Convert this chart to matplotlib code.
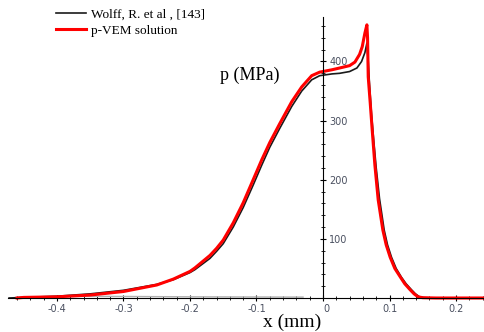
import numpy as np
import matplotlib
matplotlib.use('Agg')
import matplotlib.pyplot as plt
from matplotlib.ticker import FixedLocator

# p-VEM solution (red)
vem_x = [-0.460, -0.45, -0.40, -0.35, -0.30, -0.25, -0.225, -0.20, -0.1925, -0.17,
         -0.16, -0.15, -0.135, -0.12, -0.105, -0.092, -0.08, -0.065, -0.047, -0.032,
         -0.017, -0.005, 0.0135, 0.025, 0.04, 0.048, 0.055, 0.059, 0.063,
         0.066, 0.067, 0.068, 0.071, 0.074, 0.078, 0.083, 0.090, 0.095, 0.101,
         0.108, 0.116, 0.123, 0.131, 0.137, 0.143, 0.15, 0.17, 0.242]
vem_p = [0, 1, 2, 5, 11, 22, 32, 45, 51, 72,
         84, 98, 127, 161, 200, 234, 263, 295, 332, 357,
         376, 382, 386, 389, 393, 399, 412, 425, 448,
         462, 440, 374, 330, 284, 225, 166, 115, 90, 69,
         50, 36, 24, 14, 7, 2, 0.5, 0, 0]

# Wolff, R. et al (black)
ref_x = [-0.472, -0.45, -0.40, -0.35, -0.30, -0.25, -0.225, -0.20, -0.1925, -0.17,
         -0.16, -0.15, -0.135, -0.12, -0.105, -0.092, -0.08, -0.065, -0.047, -0.032,
         -0.017, -0.005, 0.0135, 0.025, 0.04, 0.051, 0.058, 0.063, 0.066,
         0.068, 0.070, 0.073, 0.076, 0.080, 0.085, 0.092, 0.097, 0.103, 0.110,
         0.118, 0.125, 0.133, 0.139, 0.145, 0.152, 0.17, 0.242]
ref_p = [0, 1, 3, 7, 13, 23, 31, 43, 48, 67,
         79, 92, 120, 153, 191, 225, 255, 287, 324, 350,
         369, 376, 379, 380, 383, 389, 400, 415, 431,
         400, 360, 310, 270, 220, 168, 115, 90, 69, 50,
         35, 24, 14, 7, 2, 0.5, 0, 0]

# faint grey trace along the axis
trace_x = [-0.37, -0.20, -0.03]
trace_p = [3, 2, 1.5]

xticks = [-0.4, -0.3, -0.2, -0.1, 0, 0.1, 0.2]
xlabels = ['-0.4', '-0.3', '-0.2', '-0.1', '0', '0.1', '0.2']
yticks = [100, 200, 300, 400]
xminor = np.arange(-0.46, 0.241, 0.02)
yminor = np.arange(20, 461, 20)

fig = plt.figure(figsize=(4.85, 3.32), dpi=100)
ax = fig.add_axes([0, 0, 1, 1])
ax.set_xlim(-0.4857, 0.2436)
ax.set_ylim(-57.5, 504)

ax.plot(trace_x, trace_p, color='#b0b0b0', lw=1.0)
ax.plot(ref_x, ref_p, color='#1a1a1a', lw=1.2, label='Wolff, R. et al , [143]')
ax.plot(vem_x, vem_p, color='#ff0000', lw=2.2, label='p-VEM solution')

# Maple-like axes crossing at origin
ax.spines['top'].set_visible(False)
ax.spines['left'].set_visible(False)
ax.spines['bottom'].set_position(('data', 0))
ax.spines['right'].set_position(('data', 0))
ax.spines['bottom'].set_bounds(-0.474, 0.2436)
ax.spines['right'].set_bounds(0, 475)
ax.yaxis.tick_right()
ax.xaxis.tick_bottom()

ax.xaxis.set_major_locator(FixedLocator(xticks))
ax.set_xticklabels(xlabels)
ax.xaxis.set_minor_locator(FixedLocator(xminor))
ax.yaxis.set_major_locator(FixedLocator(yticks))
ax.yaxis.set_minor_locator(FixedLocator(yminor))
ax.tick_params(which='major', direction='inout', length=5, width=0.8,
               labelsize=7, labelcolor='#4a5060', pad=2)
ax.tick_params(which='minor', direction='inout', length=3, width=0.6)
for lab in ax.get_xticklabels():
    if lab.get_text() == '0':
        lab.set_horizontalalignment('left')

ax.text(0.515, 0.774, 'p (MPa)', transform=ax.transAxes, ha='center', va='center',
        family='Liberation Serif', fontsize=13)
ax.text(0.602, 0.03, 'x (mm)', transform=ax.transAxes, ha='center', va='center',
        family='Liberation Serif', fontsize=14)

ax.legend(loc='upper left', bbox_to_anchor=(0.115, 0.975), frameon=False,
          borderpad=0, borderaxespad=0, handlelength=2.3, handletextpad=0.4,
          labelspacing=0.32, prop={'family': 'Liberation Serif', 'size': 9.5})

fig.savefig('out.png', dpi=100)
